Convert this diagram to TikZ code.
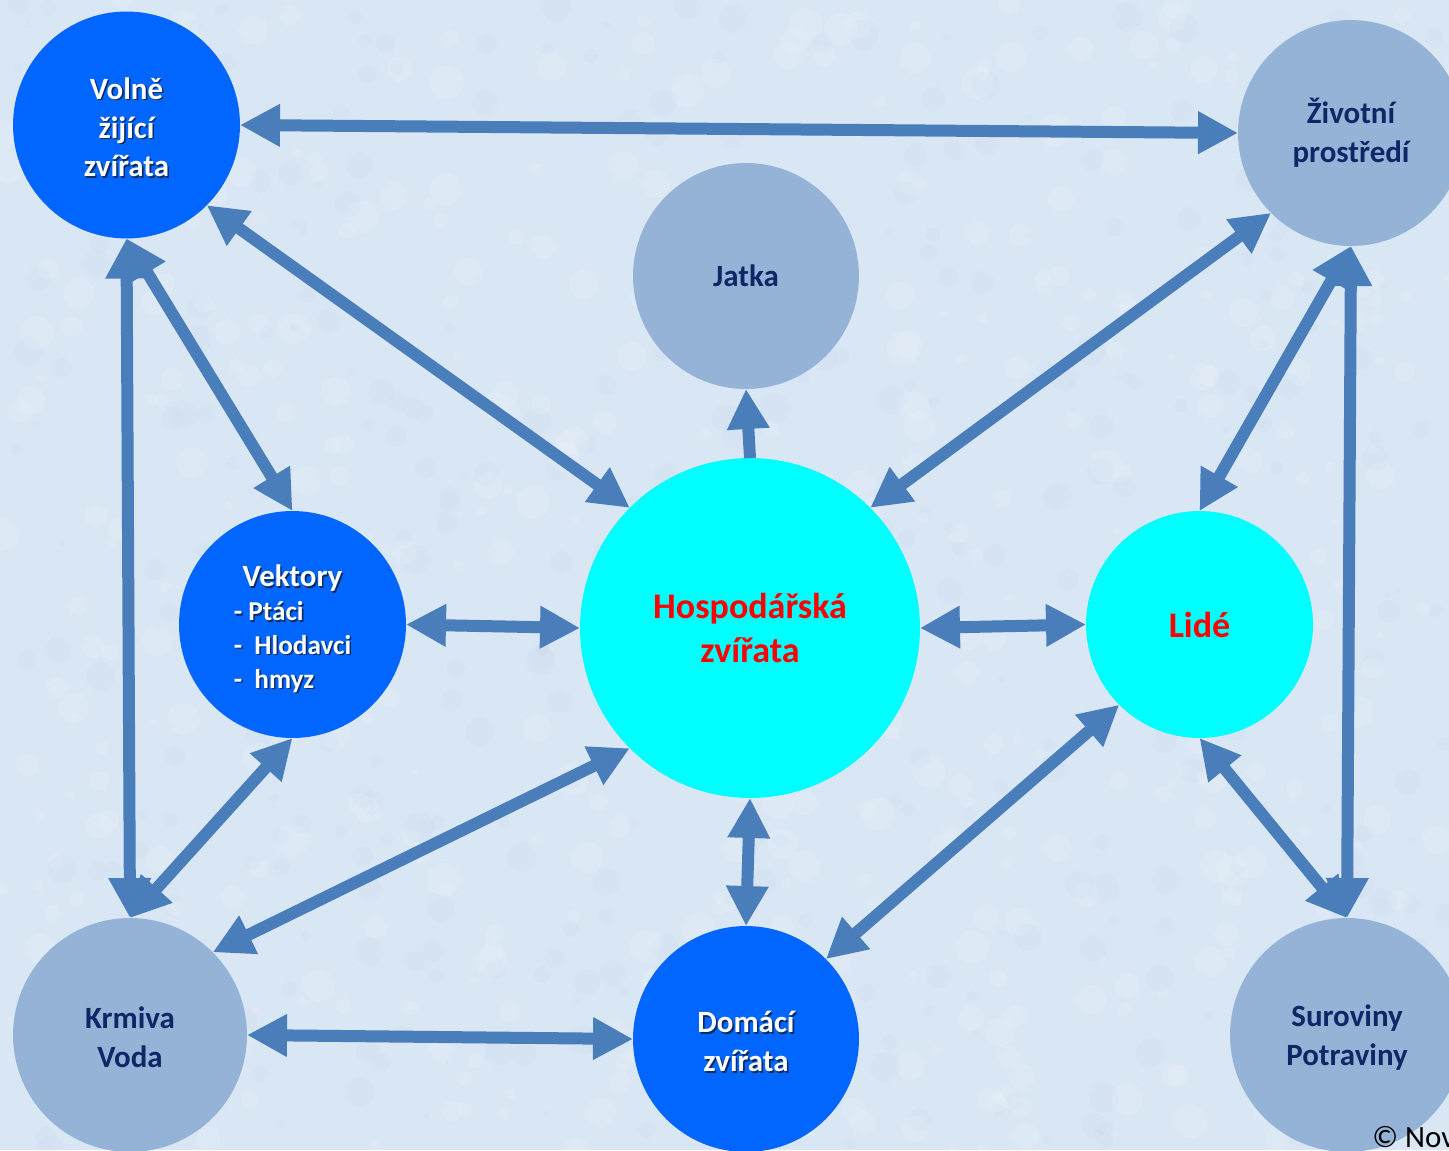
\documentclass[tikz,border=0pt]{standalone}
\usepackage{fontspec}
\setmainfont{Carlito}
\usetikzlibrary{arrows.meta}

\definecolor{bgc}{HTML}{D9E6F4}
\definecolor{bgdark}{HTML}{BCD1E8}
\definecolor{arrowc}{HTML}{4A7EBB}
\definecolor{paleblue}{HTML}{95B3D7}
\definecolor{strongblue}{HTML}{0066FF}
\definecolor{aqua}{HTML}{00FFFF}
\definecolor{navytext}{HTML}{0F2766}
\definecolor{shadowc}{HTML}{0B2B66}

% white label text with a small dark drop shadow
\newcommand{\shd}[1]{\leavevmode\rlap{\kern0.9pt\raisebox{-0.9pt}{\textcolor{shadowc}{#1}}}#1}

\tikzset{
  bubble/.style={circle, inner sep=0pt, outer sep=0pt, align=center,
    font=\bfseries\fontsize{17.6}{22.1}\selectfont},
  wildc/.style={bubble, fill=strongblue, text=white},
  palec/.style={bubble, fill=paleblue, text=navytext},
  corec/.style={bubble, fill=aqua, text=red,
    font=\bfseries\fontsize{20.5}{25}\selectfont},
  tip/.tip={Triangle[length=0.8cm, width=0.8cm]},
  link/.style={draw=arrowc, line width=0.24cm, tip-tip},
  oneway/.style={draw=arrowc, line width=0.24cm, -tip},
}

\begin{document}
\begin{tikzpicture}[x=0.02cm, y=-0.02cm]
  \useasboundingbox (0,0) rectangle (1449,1150);
  \clip (0,0) rectangle (1449,1150);

  % mottled paper background
  \fill[bgc] (0,0) rectangle (1449,1150);
  \pgfmathsetseed{17}
  \foreach \i in {1,...,500} {
    \pgfmathsetmacro\bx{rnd*1449}
    \pgfmathsetmacro\by{rnd*1150}
    \pgfmathsetmacro\br{3+rnd*14}
    \fill[white, opacity=0.13] (\bx,\by) circle[radius=\br];
  }
  \foreach \i in {1,...,400} {
    \pgfmathsetmacro\bx{rnd*1449}
    \pgfmathsetmacro\by{rnd*1150}
    \pgfmathsetmacro\br{3+rnd*12}
    \fill[bgdark, opacity=0.10] (\bx,\by) circle[radius=\br];
  }

  % circles
  \node[wildc, minimum size=4.54cm] (volne) at (126.5,125)
    {\rule{0pt}{16pt}\shd{Volně}\\\shd{žijící}\\\shd{zvířata}};
  \node[palec, minimum size=4.52cm] (zivot) at (1351,133)
    {Životní\\prostředí};
  \node[palec, minimum size=4.52cm] (jatka) at (746,276) {Jatka};
  \node[corec, minimum size=6.8cm] (hosp) at (750,628)
    {Hospodářská\\zvířata};
  \node[wildc, minimum size=4.54cm, align=left,
        font=\bfseries\fontsize{15.5}{19.3}\selectfont] (vekt) at (292.5,624.5)
    {\rule{0pt}{18pt}\hspace*{5pt}{\fontsize{17.6}{19.3}\selectfont\shd{Vektory}}\\
     \shd{- Ptáci}\\\shd{-~~Hlodavci}\\\shd{-~~hmyz}};
  \node[corec, minimum size=4.54cm] (lide) at (1199.5,624.5) {Lidé};
  \node[palec, minimum size=4.68cm] (krmiva) at (130,1035)
    {\rule{0pt}{15pt}Krmiva\\Voda};
  \node[wildc, minimum size=4.52cm] (domaci) at (746,1039)
    {\rule{0pt}{16pt}\shd{Domácí}\\\shd{zvířata}};
  \node[palec, minimum size=4.68cm] (surov) at (1347,1035)
    {\rule{0pt}{15pt}Suroviny\\Potraviny};

  % connections
  \draw[link] (volne.0) -- (zivot.180);
  \draw[link] (volne.-45) -- (hosp.135);
  \draw[link] (volne.-90) -- (vekt.90);
  \draw[link] (volne.-90) -- (krmiva.90);
  \draw[link] (zivot.-135) -- (hosp.45);
  \draw[link] (zivot.-90) -- (lide.90);
  \draw[link] (zivot.-90) -- (surov.90);
  \draw[oneway] (hosp.90) -- (jatka.-90);
  \draw[link] (vekt.0) -- (hosp.180);
  \draw[link] (hosp.0) -- (lide.180);
  \draw[link] (vekt.-90) -- (krmiva.90);
  \draw[link] (hosp.-135) -- (krmiva.45);
  \draw[link] (hosp.-90) -- (domaci.90);
  \draw[link] (lide.-135) -- (domaci.45);
  \draw[link] (lide.-90) -- (surov.90);
  \draw[link] (krmiva.0) -- (domaci.180);

  % copyright line
  \node[anchor=base west, inner sep=0pt, text=black,
        font=\fontsize{17.6}{20}\selectfont] (copy) at (1372,1147) {© Nov};
\end{tikzpicture}
\end{document}
